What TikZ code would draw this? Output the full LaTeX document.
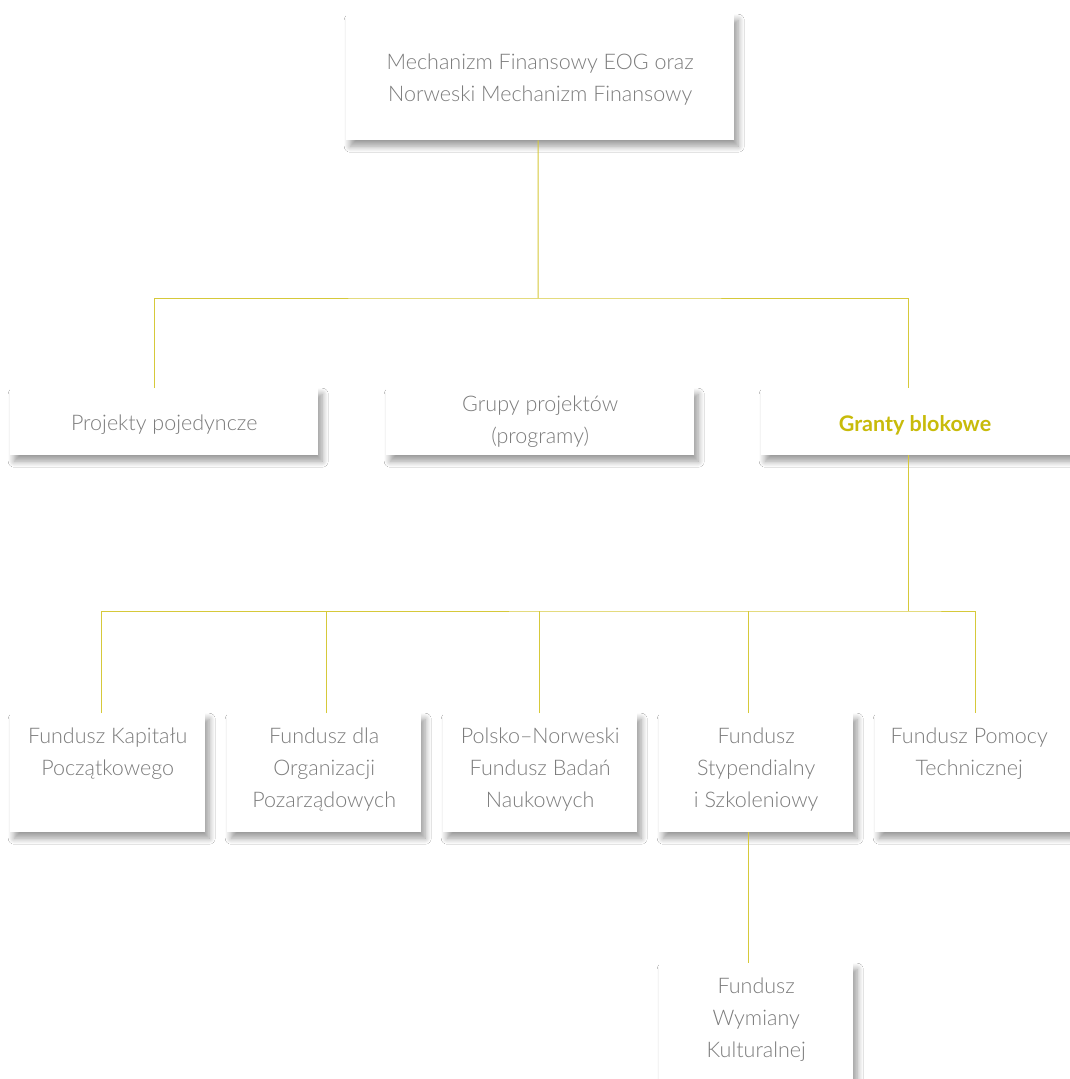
\documentclass[tikz,border=0pt]{standalone}
\usepackage{fontspec}
\setmainfont{Lato}[UprightFont=* Light, BoldFont=* Bold]
\usepackage{tikz}
\usetikzlibrary{shadows.blur,positioning}
\definecolor{linia}{HTML}{D6C93A}
\definecolor{tekst}{HTML}{7C7C7C}
\definecolor{zolty}{HTML}{C8BB0A}

\begin{document}
\begin{tikzpicture}[
x=1pt, y=-1pt,
box/.style={rectangle, fill=white, anchor=north west, inner sep=0pt,
  blur shadow={shadow xshift=4pt, shadow yshift=-6pt, shadow blur radius=6pt,
    shadow blur steps=10, shadow opacity=40}},
txt/.style={inner sep=0pt, align=center, text=tekst, font=\fontsize{21.5}{32}\selectfont},
conn/.style={draw=linia, line width=1pt}]
\clip (0,0) rectangle (1070,1079);
\fill[white] (0,0) rectangle (1070,1079);
% level 0
\node [box, minimum width=388pt, minimum height=126pt] (mf) at (346,14) {};
\node [txt] (mf-t) at ([yshift=-2pt]mf.center) {Mechanizm Finansowy EOG oraz\\Norweski Mechanizm Finansowy};
% level 1
\node [box, minimum width=308pt, minimum height=67pt] (proj) at (10,388) {};
\node [txt] (proj-t) at ([yshift=-3pt]proj.center) {Projekty pojedyncze};
\node [box, minimum width=308pt, minimum height=67pt] (grupy) at (386,388) {};
\node [txt] (grupy-t) at (grupy.center) {Grupy projektów\\(programy)};
\node [box, minimum width=320pt, minimum height=67pt] (granty) at (761,388) {};
\node [txt, text=zolty, font=\fontsize{21.5}{32}\selectfont\bfseries] (granty-t) at (915,425) {Granty blokowe};
% level 2
\node [box, minimum width=195pt, minimum height=119pt] (kap) at (10,713) {};
\node [txt, anchor=north] (kap-t) at ([yshift=-15pt]kap.north) {Fundusz Kapitału\\Początkowego};
\node [box, minimum width=194pt, minimum height=119pt] (ngo) at (227,713) {};
\node [txt, anchor=north] (ngo-t) at ([yshift=-15pt]ngo.north) {Fundusz dla\\Organizacji\\Pozarządowych};
\node [box, minimum width=194pt, minimum height=119pt] (bad) at (443,713) {};
\node [txt, anchor=north] (bad-t) at ([yshift=-15pt]bad.north) {Polsko–Norweski\\Fundusz Badań\\Naukowych};
\node [box, minimum width=194pt, minimum height=119pt] (styp) at (659,713) {};
\node [txt, anchor=north] (styp-t) at ([yshift=-15pt]styp.north) {Fundusz\\Stypendialny\\i Szkoleniowy};
\node [box, minimum width=205pt, minimum height=119pt] (pom) at (875,713) {};
\node [txt, anchor=north] (pom-t) at ([xshift=-8.5pt, yshift=-15pt]pom.north) {Fundusz Pomocy\\Technicznej};
% level 3
\node [box, minimum width=194pt, minimum height=130pt] (wym) at (659,963) {};
\node [txt, anchor=north] (wym-t) at ([yshift=-15pt]wym.north) {Fundusz\\Wymiany\\Kulturalnej};
% connectors
\coordinate (s1) at (538,298);
\coordinate (s2) at (908,611);
\draw [conn] ([xshift=-2pt]mf.south) -- (s1);
\draw [conn] ([xshift=-10pt]proj.north) -- ([xshift=-10pt]proj.north |- s1) -- (s1)
  -- (s1 -| s2) -- (s2 |- granty.north);
\draw [conn] (s2 |- granty.south) -- (s2);
\draw [conn] ([xshift=-6.5pt]kap.north) -- ([xshift=-6.5pt]kap.north |- s2) -- (s2)
  -- ([xshift=-2.5pt]pom.north |- s2) -- ([xshift=-2.5pt]pom.north);
\draw [conn] ([xshift=2pt]ngo.north) -- ([xshift=2pt]ngo.north |- s2);
\draw [conn] ([xshift=-1pt]bad.north) -- ([xshift=-1pt]bad.north |- s2);
\draw [conn] ([xshift=-8pt]styp.north) -- ([xshift=-8pt]styp.north |- s2);
\draw [conn] ([xshift=-8pt]styp.south) -- ([xshift=-8pt]wym.north);
\end{tikzpicture}
\end{document}
